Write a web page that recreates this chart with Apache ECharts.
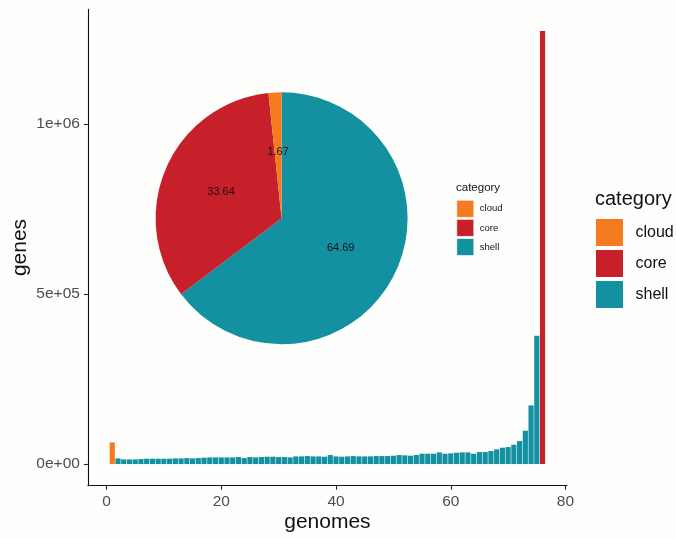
<!DOCTYPE html>
<html>
<head>
<meta charset="utf-8">
<script src="https://cdn.jsdelivr.net/npm/echarts@6/dist/echarts.min.js"></script>
<style>
  html, body { margin: 0; padding: 0; background: #fefefd; }
  #chart { width: 676px; height: 538px; }
</style>
</head>
<body>
<div id="chart"></div>
<script>
// Gene counts per number of genomes sharing the gene
const categories = ['cloud', 'core', 'shell'];
const categoryColors = ['#f47b20', '#c8202a', '#1391a1'];

const cloudGenomes = [1];
const cloudGenes = [63500];

const coreGenomes = [76];
const coreGenes = [1273500];

const shellGenomes = [
  2, 3, 4, 5, 6, 7, 8, 9, 10, 11, 12, 13, 14, 15, 16, 17, 18, 19, 20,
  21, 22, 23, 24, 25, 26, 27, 28, 29, 30, 31, 32, 33, 34, 35, 36, 37, 38, 39, 40,
  41, 42, 43, 44, 45, 46, 47, 48, 49, 50, 51, 52, 53, 54, 55, 56, 57, 58, 59, 60,
  61, 62, 63, 64, 65, 66, 67, 68, 69, 70, 71, 72, 73, 74, 75
];
const shellGenes = [
  16700, 13700, 13700, 13700, 14700, 15700, 15700, 15700, 15700, 15700, 16700, 16700, 17600, 16700, 17600, 18600, 19600, 19600, 19600,
  19600, 19600, 20600, 17600, 20600, 19600, 20600, 21600, 21600, 20600, 20600, 19600, 22500, 22500, 23500, 22500, 22500, 21600, 26500, 22500,
  21600, 22500, 23500, 22500, 22500, 22500, 23500, 23500, 23500, 24500, 26500, 25500, 24500, 26500, 30400, 30400, 30400, 34300, 30400, 31400,
  33300, 34300, 34300, 30400, 35300, 35300, 38200, 43100, 48000, 50000, 56800, 67600, 98000, 172500, 377400
];

// Percentage of genes in each category (pie inset)
const piePercent = { cloud: 1.67, core: 33.64, shell: 64.69 };

// Axis ticks
const xTicks = [0, 20, 40, 60, 80];
const yTicks = [0, 500000, 1000000];
const yTickLabels = ['0e+00', '5e+05', '1e+06'];

const FONT = '"Liberation Sans", Arial, Helvetica, sans-serif';

const pairs = (xs, ys) => xs.map((x, i) => [x, ys[i]]);

// Continuous scales padded 5% on each side of the data range
const xLo = 0.55, xHi = 76.45;
const xPad = (xHi - xLo) * 0.05;
const yMax = Math.max(...coreGenes, ...shellGenes, ...cloudGenes);
const yPad = yMax * 0.05;

const chart = echarts.init(document.getElementById('chart'), null, { renderer: 'canvas' });

const barCommon = {
  type: 'bar',
  barWidth: 5.17,
  barGap: '-100%',
  silent: true
};

const option = {
  animation: false,
  backgroundColor: '#fefefd',
  textStyle: { fontFamily: FONT },
  grid: { left: 87.9, right: 109.1, top: 9.4, bottom: 52.3, containLabel: false },
  xAxis: {
    type: 'value',
    min: xLo - xPad,
    max: xHi + xPad,
    splitLine: { show: false },
    axisLine: { show: true, onZero: false, lineStyle: { color: '#111', width: 1.1 } },
    axisTick: { show: true, length: 4, customValues: xTicks, lineStyle: { color: '#222', width: 1.1 } },
    axisLabel: { customValues: xTicks, color: '#4d4d4d', fontSize: 15.5, margin: 8, fontFamily: FONT }
  },
  yAxis: {
    type: 'value',
    min: -yPad,
    max: yMax + yPad,
    splitLine: { show: false },
    axisLine: { show: true, onZero: false, lineStyle: { color: '#111', width: 1.1 } },
    axisTick: { show: true, length: 4, customValues: yTicks, lineStyle: { color: '#222', width: 1.1 } },
    axisLabel: {
      customValues: yTicks,
      color: '#4d4d4d', fontSize: 15.5, margin: 8, fontFamily: FONT,
      formatter: v => yTickLabels[yTicks.indexOf(v)]
    }
  },
  legend: [
    {
      data: categories,
      orient: 'vertical',
      left: 595, top: 218,
      itemWidth: 28, itemHeight: 28, itemGap: 2,
      padding: 0,
      icon: 'rect',
      selectedMode: false,
      itemStyle: { borderColor: '#ffffff', borderWidth: 1 },
      textStyle: { fontSize: 16, color: '#111', fontFamily: FONT, padding: [0, 0, 0, 7] }
    },
    {
      data: categories,
      orient: 'vertical',
      left: 456.5, top: 200,
      itemWidth: 17, itemHeight: 17, itemGap: 1.5,
      padding: 0,
      icon: 'rect',
      selectedMode: false,
      itemStyle: { borderColor: '#ffffff', borderWidth: 0.6 },
      textStyle: { fontSize: 9.5, color: '#111', fontFamily: FONT, padding: [0, 0, 0, 1] }
    }
  ],
  graphic: [
    {
      type: 'text', left: 595, top: 189,
      style: { text: 'category', font: '20px ' + FONT, fill: '#111' }
    },
    {
      type: 'text', left: 456, top: 182,
      style: { text: 'category', font: '11.5px ' + FONT, fill: '#111' }
    },
    {
      type: 'text', x: 327.4, y: 522,
      style: { text: 'genomes', font: '21px ' + FONT, fill: '#111', align: 'center', verticalAlign: 'middle' }
    },
    {
      type: 'text', x: 20, y: 247.5, rotation: Math.PI / 2,
      style: { text: 'genes', font: '21px ' + FONT, fill: '#111', align: 'center', verticalAlign: 'middle' }
    }
  ],
  series: [
    Object.assign({ name: 'cloud', data: pairs(cloudGenomes, cloudGenes), itemStyle: { color: categoryColors[0] } }, barCommon),
    Object.assign({ name: 'core', data: pairs(coreGenomes, coreGenes), itemStyle: { color: categoryColors[1] } }, barCommon),
    Object.assign({ name: 'shell', data: pairs(shellGenomes, shellGenes), itemStyle: { color: categoryColors[2] } }, barCommon),
    {
      type: 'pie',
      center: [281.6, 218.3],
      radius: [0, 126],
      startAngle: 90,
      clockwise: true,
      silent: true,
      z: 5,
      label: {
        show: true, position: 'inside',
        fontSize: 11, color: '#111', fontFamily: FONT,
        formatter: p => p.value.toFixed(2)
      },
      labelLine: { show: false },
      emphasis: { disabled: true },
      itemStyle: { borderWidth: 0 },
      data: [
        { name: 'shell', value: piePercent.shell, itemStyle: { color: categoryColors[2] } },
        { name: 'core', value: piePercent.core, itemStyle: { color: categoryColors[1] } },
        { name: 'cloud', value: piePercent.cloud, itemStyle: { color: categoryColors[0] } }
      ]
    }
  ]
};

chart.setOption(option);
</script>
</body>
</html>
